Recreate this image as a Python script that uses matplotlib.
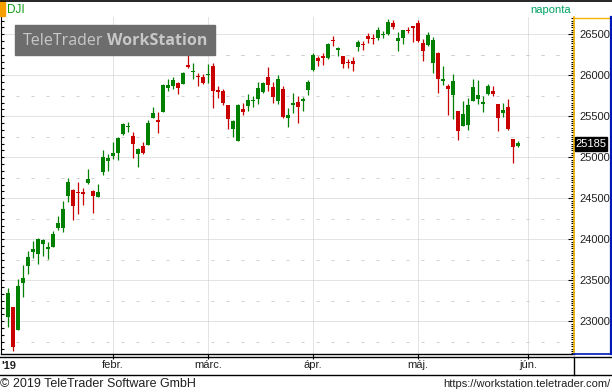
import matplotlib
matplotlib.use('Agg')
import matplotlib.pyplot as plt
from matplotlib.patches import Rectangle
from matplotlib.ticker import MultipleLocator
import numpy as np

# DJI daily candles, one entry per trading day 2019-01-02 .. 2019-05-30
opens = [23056, 23174, 22894, 23471, 23678, 23849, 23817, 23946, 23882, 23910,
         24138, 24138, 24528, 24601, 24580, 24580, 24683, 24589, 24520, 24824,
         24959, 25020, 25056, 25280, 25366, 25260, 25044, 25138, 25154, 25483,
         25455, 25556, 25849, 25873, 25906, 25898, 26126, 26044, 25995, 25979,
         26007, 26113, 25821, 25809, 25634, 25349, 25202, 25589, 25629, 25687,
         25715, 25800, 25979, 25861, 25690, 25833, 25483, 25646, 25674, 25690,
         25821, 26065, 26215, 26239, 26207, 26427, 26312, 26235, 26162, 26174,
         26341, 26378, 26479, 26451, 26458, 26491, 26504, 26638, 26418, 26451,
         26556, 26593, 26634, 26390, 26370, 26154, 26272, 25934, 25869, 25763,
         25565, 25385, 25394, 25687, 25711, 25650, 25768, 25809, 25650, 25544,
         25614, 25220, 25141]
highs = [23410, 23180, 23516, 23687, 23857, 23979, 24016, 24007, 23967, 24101,
         24288, 24467, 24748, 24610, 24699, 24626, 24857, 24600, 24674, 25089,
         25040, 25187, 25251, 25418, 25430, 25309, 25117, 25187, 25455, 25613,
         25552, 25898, 25955, 25983, 25920, 26041, 26248, 26147, 26024, 26020,
         26138, 26154, 25873, 25829, 25640, 25455, 25650, 25658, 25772, 25744,
         25918, 25922, 26101, 25918, 26007, 25870, 25601, 25788, 25748, 25735,
         25943, 26276, 26239, 26276, 26394, 26483, 26345, 26240, 26202, 26223,
         26434, 26418, 26516, 26500, 26589, 26540, 26686, 26674, 26524, 26556,
         26589, 26601, 26674, 26443, 26532, 26463, 26280, 26110, 25894, 26016,
         25570, 25687, 25719, 25955, 25943, 25748, 25898, 25870, 25655, 25658,
         25711, 25225, 25195]
lows = [22934, 22641, 22894, 23300, 23580, 23776, 23702, 23800, 23760, 23902,
        24113, 24089, 24455, 24235, 24309, 24418, 24674, 24324, 24512, 24784,
        24837, 24979, 24967, 25272, 25309, 24995, 24885, 25044, 25154, 25483,
        25300, 25556, 25812, 25837, 25768, 25898, 26089, 25960, 25873, 25894,
        25910, 25601, 25720, 25634, 25345, 25244, 25202, 25520, 25568, 25617,
        25646, 25788, 25812, 25666, 25650, 25483, 25373, 25544, 25422, 25568,
        25760, 26052, 26114, 26126, 26195, 26357, 26235, 26085, 26085, 26052,
        26296, 26308, 26398, 26382, 26430, 26458, 26491, 26568, 26296, 26386,
        26520, 26410, 26410, 26174, 26361, 26032, 25788, 25882, 25516, 25467,
        25211, 25385, 25333, 25687, 25650, 25556, 25756, 25748, 25321, 25491,
        25333, 24934, 25126]
closes = [23341, 22690, 23430, 23532, 23784, 23882, 24004, 23991, 23910, 24065,
          24199, 24370, 24699, 24406, 24561, 24553, 24735, 24528, 24577, 25000,
          24988, 25049, 25239, 25406, 25382, 25162, 25101, 25056, 25418, 25540,
          25434, 25882, 25882, 25943, 25842, 26028, 26097, 26053, 25983, 25910,
          26020, 25809, 25796, 25662, 25467, 25443, 25638, 25556, 25695, 25699,
          25841, 25906, 25885, 25739, 25955, 25491, 25516, 25654, 25617, 25711,
          25922, 26248, 26174, 26207, 26382, 26418, 26337, 26138, 26154, 26138,
          26406, 26370, 26443, 26443, 26552, 26500, 26654, 26585, 26458, 26548,
          26544, 26585, 26418, 26296, 26496, 26430, 25959, 25955, 25829, 25930,
          25321, 25528, 25638, 25857, 25760, 25671, 25869, 25768, 25483, 25573,
          25345, 25129, 25178]

month_idx = [21, 40, 61, 82, 104]          # first trading day of each month
month_lbl = ['febr.', 'márc.', 'ápr.', 'máj.', 'jún.']
price_ticks = [23000, 23500, 24000, 24500, 25000, 25500, 26000, 26500]
last_price = '25185'

W, H = 612, 392
plt.rcParams['font.family'] = ['Liberation Sans', 'DejaVu Sans']
fig = plt.figure(figsize=(W / 100, H / 100), dpi=100)


def box(x0, y0, x1, y1):
    # pixel box -> figure fraction rect
    return [x0 / W, 1 - y1 / H, (x1 - x0) / W, (y1 - y0) / H]


ax = fig.add_axes(box(0.5, 17, 573.5, 353.5))

# grid
for v in price_ticks:
    ax.axhline(v, color='#c8c8c8', lw=0.72, ls=(0, (1, 1)), zorder=1)
for v in [p - 250 for p in price_ticks] + [26250]:
    ax.axhline(v, color='#d0d0d0', lw=0.72, ls=(0, (3, 12)), zorder=1)
for m in month_idx:
    ax.axvline(m, color='#c8c8c8', lw=0.72, ls=(0, (1, 1)), zorder=1)

# candles
idx = np.arange(len(closes))
o = np.array(opens, dtype=float)
c = np.array(closes, dtype=float)
col = np.where(c >= o, '#008000', '#c80000')
ax.vlines(idx, lows, highs, colors=col, lw=0.9, zorder=3)
body = np.abs(c - o)
bottom = np.where(body < 14, (o + c) / 2 - 7, np.minimum(o, c))
ax.bar(idx, np.maximum(body, 14), 0.62, bottom=bottom, color=col, lw=0, zorder=4)

# left tick marks
lt = np.arange(22500, 26800, 500 / 6)
ax.hlines(lt, 0, 0.006, transform=ax.get_yaxis_transform(), color='black', lw=0.8)

ax.set_xlim(-1.5, 113.1)
ax.set_ylim(22607, 26711)

ax.yaxis.tick_right()
ax.set_yticks(price_ticks)
ax.yaxis.set_minor_locator(MultipleLocator(500 / 18))
ax.tick_params(axis='y', which='major', direction='in', length=4, width=0.8,
               color='black', labelcolor='#202020', labelsize=8, pad=4.5)
ax.tick_params(axis='y', which='minor', direction='in', length=2, width=0.8, color='black')

ax.set_xticks(month_idx)
ax.set_xticklabels(month_lbl)
ax.tick_params(axis='x', direction='out', length=3.5, width=0.8, color='black',
               labelcolor='#202020', labelsize=8, pad=1.5)

ax.spines['top'].set_visible(False)
ax.spines['left'].set_color('black')
ax.spines['bottom'].set_color('black')
ax.spines['bottom'].set_linewidth(1)
ax.spines['right'].set_color('#f2b400')
ax.spines['right'].set_linewidth(1.2)

# overlay in pixel coordinates
ov = fig.add_axes([0, 0, 1, 1])
ov.set_xlim(0, W)
ov.set_ylim(H, 0)
ov.axis('off')

ov.plot([0, W], [0.5, 0.5], color='black', lw=1.2)
ov.add_patch(Rectangle((0, 1), 5, 15, color='#f5a000'))
ov.text(7, 9.5, 'DJI', color='#129a12', fontsize=8.5, va='center', ha='left')
ov.text(551, 9.5, 'naponta', color='#00a060', fontsize=8, va='center', ha='center')

# watermark
ov.add_patch(Rectangle((15, 25), 200, 30, color='#6d6d6d', zorder=5))
ov.text(23, 40.5, 'TeleTrader', family='Open Sans', fontsize=11.5, color='#c8c8c8',
        va='center', ha='left', zorder=6)
ov.text(207, 40.5, 'WorkStation', family='Open Sans', fontweight='bold', fontsize=11.5,
        color='#c8c8c8', va='center', ha='right', zorder=6)

# right panel frame
ov.plot([574, 611], [17.5, 17.5], color='#f2b400', lw=1)
ov.plot([610.5, 610.5], [17, 354], color='#0018b8', lw=1.6)
ov.plot([574, 611], [353.5, 353.5], color='#0018b8', lw=1.2)
ov.add_patch(Rectangle((575, 136.5), 32, 14.5, color='black', zorder=5))
ov.text(591, 144, last_price, color='white', fontsize=8, va='center', ha='center', zorder=6)

# x band
ov.plot([0, W], [357, 357], color='black', lw=1)
ov.plot([0, W], [374.5, 374.5], color='black', lw=1)
ov.plot([573.5, 573.5], [357, 374.5], color='black', lw=1)
ov.text(1, 366, "'19", color='#202020', fontsize=8, fontweight='bold', va='center', ha='left')

ov.text(0, 384, '© 2019 TeleTrader Software GmbH', color='#202020', fontsize=9,
        va='center', ha='left')
ov.text(611, 384, 'https://workstation.teletrader.com/', color='#202020', fontsize=8,
        va='center', ha='right')

fig.savefig('out.png', dpi=100, facecolor='white')
